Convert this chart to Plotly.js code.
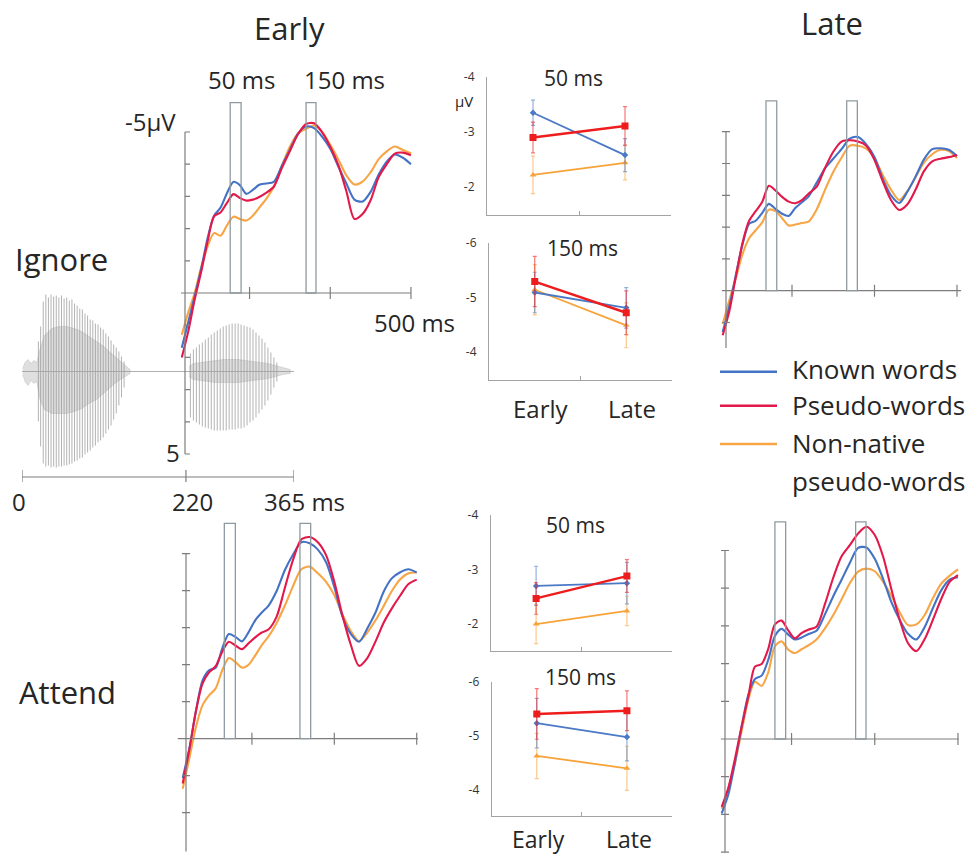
<!DOCTYPE html>
<html><head><meta charset="utf-8">
<script src="https://cdn.plot.ly/plotly-3.0.1.min.js"></script>
<style>html,body{margin:0;padding:0;background:#fff}#chart{width:978px;height:858px}</style>
</head><body><div id="chart"></div>
<script>
// ---------------- DATA ----------------
const seriesNames = ['Known words', 'Pseudo-words', 'Non-native pseudo-words'];
const legendRows = ['Known words', 'Pseudo-words', 'Non-native', 'pseudo-words'];

// ERP time points (ms from word onset)
const timeMs = [216,224,232,240,248,256,264,272,280,288,296,304,312,320,330,340,350,360,370,380,390,400,410,420,430,440,450,460,470,480,490,500];

// Ignore condition, Early (µV, negative up)
const ignoreEarlyKnown = [1.7,0.9,0.1,-0.75,-1.7,-2.4,-2.65,-3.1,-3.45,-3.35,-3.08,-3.2,-3.36,-3.4,-3.45,-3.95,-4.45,-4.95,-5.17,-5.12,-4.85,-4.48,-3.93,-3.4,-2.9,-2.84,-3.14,-3.68,-4.08,-4.3,-4.2,-4.0];
const ignoreEarlyPseudo = [2.0,1.2,0.2,-0.65,-1.6,-2.38,-2.5,-2.8,-3.07,-2.95,-2.87,-2.9,-2.98,-3.1,-3.3,-3.88,-4.41,-4.93,-5.25,-5.27,-4.99,-4.54,-3.97,-3.16,-2.3,-2.45,-2.88,-3.6,-4.0,-4.33,-4.36,-4.28];
const ignoreEarlyNonnative = [1.3,0.6,0.0,-0.8,-1.45,-1.86,-1.78,-2.1,-2.37,-2.3,-2.25,-2.4,-2.65,-2.9,-3.3,-3.95,-4.55,-4.95,-5.1,-5.2,-5.0,-4.6,-4.15,-3.65,-3.37,-3.46,-3.75,-4.16,-4.4,-4.55,-4.44,-4.34];
// Ignore condition, Late
const ignoreLateKnown = [1.3,0.5,-0.5,-1.45,-2.1,-2.2,-2.45,-2.73,-2.57,-2.42,-2.35,-2.6,-2.78,-2.96,-3.4,-3.85,-4.15,-4.45,-4.78,-4.83,-4.6,-4.2,-3.52,-3.0,-2.76,-3.12,-3.6,-4.13,-4.45,-4.48,-4.43,-4.23];
const ignoreLatePseudo = [1.4,0.65,-0.45,-1.5,-2.2,-2.5,-2.8,-3.3,-3.15,-2.95,-2.8,-2.75,-2.85,-3.05,-3.27,-3.86,-4.37,-4.69,-4.73,-4.69,-4.56,-4.11,-3.44,-2.85,-2.54,-2.72,-3.19,-3.76,-4.07,-4.15,-4.2,-4.27];
const ignoreLateNonnative = [1.05,0.3,-0.4,-1.15,-1.65,-1.9,-2.15,-2.55,-2.5,-2.28,-2.05,-2.08,-2.13,-2.17,-2.56,-3.17,-3.73,-4.18,-4.56,-4.56,-4.47,-4.17,-3.64,-3.18,-2.85,-3.14,-3.58,-4.03,-4.29,-4.43,-4.39,-4.17];
// Attend condition, Early
const attendEarlyKnown = [1.06,0.27,-0.74,-1.57,-1.85,-1.92,-2.44,-2.83,-2.75,-2.63,-2.88,-3.2,-3.41,-3.59,-3.99,-4.56,-4.98,-5.31,-5.28,-5.11,-4.77,-4.1,-3.29,-2.83,-2.62,-2.98,-3.41,-3.98,-4.34,-4.5,-4.58,-4.49];
const attendEarlyPseudo = [1.21,0.3,-0.74,-1.49,-1.79,-1.96,-2.35,-2.62,-2.52,-2.42,-2.58,-2.74,-2.87,-2.95,-3.3,-4.08,-4.84,-5.39,-5.45,-5.31,-4.96,-4.24,-3.32,-2.54,-1.97,-2.18,-2.63,-3.14,-3.53,-3.87,-4.18,-4.3];
const attendEarlyNonnative = [1.35,0.54,-0.31,-0.9,-1.17,-1.36,-1.85,-2.18,-2.07,-1.92,-2.0,-2.25,-2.53,-2.76,-3.13,-3.6,-4.13,-4.58,-4.65,-4.47,-4.24,-3.88,-3.35,-2.91,-2.64,-2.87,-3.2,-3.59,-4.0,-4.31,-4.47,-4.5];
// Attend condition, Late
const attendLateKnown = [1.97,1.47,0.63,-0.33,-1.17,-1.59,-1.68,-2.1,-2.73,-2.92,-2.77,-2.64,-2.69,-2.78,-2.87,-3.3,-3.78,-4.22,-4.67,-5.07,-5.08,-4.78,-4.25,-3.63,-3.16,-2.79,-2.64,-2.97,-3.48,-3.95,-4.23,-4.29];
const attendLatePseudo = [1.8,1.3,0.52,-0.33,-1.12,-1.92,-1.99,-2.39,-3.04,-3.14,-2.88,-2.67,-2.81,-2.9,-2.98,-3.57,-4.27,-4.84,-5.14,-5.45,-5.63,-5.41,-4.84,-3.97,-3.16,-2.54,-2.33,-2.65,-3.17,-3.72,-4.17,-4.35];
const attendLateNonnative = [1.85,1.31,0.64,-0.21,-1.04,-1.52,-1.41,-1.77,-2.46,-2.59,-2.37,-2.28,-2.38,-2.48,-2.64,-2.93,-3.28,-3.7,-4.13,-4.44,-4.52,-4.45,-4.17,-3.8,-3.36,-3.02,-3.04,-3.29,-3.74,-4.12,-4.33,-4.5];

// Mean amplitudes (µV) at Early / Late sessions
const sessions = ['Early', 'Late'];
const sessionX = [1, 3];
const ign50Known = [-3.35, -2.58], ign50Pseudo = [-2.90, -3.11], ign50Nonnative = [-2.22, -2.44];
const ign50KnownErr = [0.23, 0.30], ign50PseudoErr = [0.28, 0.35], ign50NonnativeErr = [0.34, 0.31];
const ign150Known = [-5.09, -4.81], ign150Pseudo = [-5.29, -4.72], ign150Nonnative = [-5.14, -4.49];
const ign150KnownErr = [0.37, 0.37], ign150PseudoErr = [0.46, 0.40], ign150NonnativeErr = [0.46, 0.41];
const att50Known = [-2.70, -2.75], att50Pseudo = [-2.47, -2.88], att50Nonnative = [-2.00, -2.24];
const att50KnownErr = [0.36, 0.38], att50PseudoErr = [0.29, 0.30], att50NonnativeErr = [0.36, 0.27];
const att150Known = [-5.23, -4.97], att150Pseudo = [-5.40, -5.46], att150Nonnative = [-4.62, -4.39];
const att150KnownErr = [0.46, 0.44], att150PseudoErr = [0.47, 0.37], att150NonnativeErr = [0.42, 0.41];
const tick50 = [-4, -3, -2], tick50Text = ['-4', '-3', '-2'];
const tick150 = [-6, -5, -4], tick150Text = ['-6', '-5', '-4'];

// Stimulus waveform: glottal pulses (ms) with upper / lower amplitude
const syl1Time = [22,25,28.5,32,35.5,39,42.5,46,49.5,53,56.5,60,63.5,67,70.5,74,77.5,81,84.5,88,91.5,95,98.5,102,105.5,109,112.5,116,119.5,123,126.5,130,133.5,137];
const syl1Up = [30,45,70,77,74,77,75,76,74,76,73,74,71,72,68,66,63,62,58,56,52,51,48,47,44,42,38,35,31,27,24,20,15,10];
const syl1Down = [50,75,92,95,94,96,95,96,95,95,94,94,93,92,90,89,87,86,83,81,79,76,74,71,69,66,62,58,54,48,42,34,26,16];
const syl2Time = [226,230,234,238,242,246,250,254,258,262,266,270,274,278,282,286,290,294,298,302,306,310,314,318,322,326,330,334,338,342];
const syl2Up = [18,22,24,27,29,32,34,37,39,41,43,45,46,47,48,48,48,47,46,45,44,42,39,36,33,29,24,19,14,9];
const syl2Down = [46,49,51,53,55,56,57,58,59,59,59,59,59,58,58,58,57,57,56,54,51,49,46,42,38,34,29,23,16,10];
const core1Time = [1,4,8,12,16,20,24,30,40,50,60,70,80,90,100,110,120,128,135,141,145];
const core1Up = [3,9,12,8,11,9,22,36,43,45,45,43,40,35,30,25,18,13,9,5,2];
const core1Down = [3,10,14,9,12,10,28,38,42,42,42,40,37,32,28,22,15,10,7,4,2];
const core2Time = [224,230,240,250,260,270,280,290,300,310,320,330,340,350,360];
const core2Up = [5,8,9,10,11,12,12,12,11,10,9,8,6,4,2];
const core2Down = [5,8,9,10,11,11,11,11,10,9,8,7,5,3,2];
const stimTicks = [0, 220, 365];
const erpTimeTicks = [300, 400, 500];

// ---------------- STYLE / LAYOUT ----------------
const W = 978, H = 858;
const FONT = 'Open Sans, Noto Sans, DejaVu Sans, sans-serif';
const TXT = '#262626';
const erpColors = ['#4472c4', '#e2194a', '#f7a545'];
const smallColors = ['#4a79c6', '#ee1c1c', '#f7a33a'];
const errColors = ['rgba(74,121,198,0.6)', 'rgba(238,28,28,0.6)', 'rgba(247,163,58,0.6)'];
const markerSymbols = ['diamond', 'square', 'triangle-up'];
const markerSizes = [5, 7, 6];
const AX = '#7d7d7d';
const fx = p => p / W, fy = p => 1 - p / H;

const panels = [
  {x:'x2', y:'y2', axPx:185, pxMs:0.807, zeroPy:293, pxUv:32.2, xr:[210,505], yTop:-6.1, yBot:5.2,
   axisUv:[-5,5], ticks:[-5,-4,-3,-2,-1,1,2,3,4,5], tL:0, tR:5, xLine:[215,500],
   win:[[276,289.5],[370,382.3]], winTop:-5.91, data:[ignoreEarlyKnown, ignoreEarlyPseudo, ignoreEarlyNonnative]},
  {x:'x3', y:'y3', axPx:726, pxMs:0.825, zeroPy:290.7, pxUv:31.8, xr:[210,507], yTop:-6.1, yBot:1.95,
   axisUv:[-5,1.8], ticks:[-5,-4,-3,-2,-1,1], tL:4, tR:4, xLine:[215,505],
   win:[[268.5,281.5],[366.3,379.2]], winTop:-5.97, data:[ignoreLateKnown, ignoreLatePseudo, ignoreLateNonnative]},
  {x:'x4', y:'y4', axPx:186, pxMs:0.824, zeroPy:738.7, pxUv:37, xr:[208,506], yTop:-6.0, yBot:3.2,
   axisUv:[-5,3.05], ticks:[-5,-4,-3,-2,-1,1,2], tL:4, tR:4, xLine:[210,501.5],
   win:[[266.5,279.9],[358.3,371.3]], winTop:-5.82, data:[attendEarlyKnown, attendEarlyPseudo, attendEarlyNonnative]},
  {x:'x5', y:'y5', axPx:725, pxMs:0.832, zeroPy:739, pxUv:37.7, xr:[208,506], yTop:-5.9, yBot:3.1,
   axisUv:[-5,3], ticks:[-5,-4,-3,-2,-1,1,2,3], tL:4, tR:4, xLine:[215,501],
   win:[[280,292.9],[377,389.5]], winTop:-5.76, data:[attendLateKnown, attendLatePseudo, attendLateNonnative]}
];

const smallPanels = [
  {x:'x6', y:'y6', xPx:[487,671], yPy:[77,214.5], yr:[-1.5,-4], tv:tick50, tt:tick50Text,
   vals:[ign50Known, ign50Pseudo, ign50Nonnative], errs:[ign50KnownErr, ign50PseudoErr, ign50NonnativeErr]},
  {x:'x7', y:'y7', xPx:[489,672], yPy:[242.7,379.5], yr:[-3.5,-6], tv:tick150, tt:tick150Text,
   vals:[ign150Known, ign150Pseudo, ign150Nonnative], errs:[ign150KnownErr, ign150PseudoErr, ign150NonnativeErr]},
  {x:'x8', y:'y8', xPx:[490.7,672.3], yPy:[515,651.3], yr:[-1.5,-4], tv:tick50, tt:tick50Text,
   vals:[att50Known, att50Pseudo, att50Nonnative], errs:[att50KnownErr, att50PseudoErr, att50NonnativeErr]},
  {x:'x9', y:'y9', xPx:[491.7,672], yPy:[681.7,816.2], yr:[-3.5,-6], tv:tick150, tt:tick150Text,
   vals:[att150Known, att150Pseudo, att150Nonnative], errs:[att150KnownErr, att150PseudoErr, att150NonnativeErr]}
];

const traces = [];
const shapes = [];
const layout = {
  width: W, height: H, margin:{l:0,r:0,t:0,b:0},
  paper_bgcolor:'#ffffff', plot_bgcolor:'rgba(0,0,0,0)',
  showlegend:false, hovermode:false,
  font:{family:FONT, color:TXT}
};

// ---- stimulus waveform subplot (x / y)
layout.xaxis = {domain:[fx(22), fx(294)], range:[0,365], anchor:'y', visible:false, fixedrange:true};
layout.yaxis = {domain:[fy(471.5), fy(271.5)], range:[-100,100], anchor:'x', showgrid:false, showticklabels:false,
  ticks:'', showline:false, zeroline:true, zerolinecolor:'#b0b0b0', zerolinewidth:1, fixedrange:true};
function corePoly(t, up, down) {
  return {x: t.concat(t.slice().reverse()), y: up.concat(down.map(d => -d).reverse())};
}
const pulseX = [], pulseY = [];
syl1Time.forEach((t,i) => { pulseX.push(t, t, null); pulseY.push(syl1Up[i], -syl1Down[i], null); });
syl2Time.forEach((t,i) => { pulseX.push(t, t, null); pulseY.push(syl2Up[i], -syl2Down[i], null); });
traces.push({type:'scatter', mode:'lines', x:pulseX, y:pulseY, xaxis:'x', yaxis:'y', connectgaps:false,
  line:{color:'rgba(175,175,175,0.95)', width:1}, hoverinfo:'skip'});
[corePoly(core1Time, core1Up, core1Down), corePoly(core2Time, core2Up, core2Down)].forEach(c => {
  traces.push({type:'scatter', mode:'lines', x:c.x, y:c.y, xaxis:'x', yaxis:'y', fill:'toself',
    fillcolor:'rgba(150,150,150,0.3)', line:{color:'rgba(150,150,150,0.45)', width:0.6}, hoverinfo:'skip'});
});
// timeline axis of the stimulus
const tlY = fy(477);
shapes.push({type:'line', xref:'x', yref:'paper', x0:stimTicks[0], x1:stimTicks[stimTicks.length-1], y0:tlY, y1:tlY, line:{color:AX, width:1.2}});
stimTicks.forEach(t => shapes.push({type:'line', xref:'x', yref:'paper', ysizemode:'pixel', yanchor:tlY,
  x0:t, x1:t, y0:-5, y1:7, line:{color:AX, width:1.2}}));

// ---- ERP panels
panels.forEach(p => {
  const xn = 'xaxis' + p.x.slice(1), yn = 'yaxis' + p.y.slice(1);
  layout[xn] = {domain:[fx(p.axPx + (p.xr[0]-220)*p.pxMs), fx(p.axPx + (p.xr[1]-220)*p.pxMs)], range:p.xr,
    anchor:p.y, visible:false, fixedrange:true};
  layout[yn] = {domain:[fy(p.zeroPy + p.yBot*p.pxUv), fy(p.zeroPy + p.yTop*p.pxUv)], range:[p.yBot, p.yTop],
    anchor:p.x, visible:false, fixedrange:true};
  const ln = {color:AX, width:1.2};
  shapes.push({type:'line', xref:p.x, yref:p.y, x0:220, x1:220, y0:p.axisUv[0], y1:p.axisUv[1], line:ln});
  shapes.push({type:'line', xref:p.x, yref:p.y, x0:p.xLine[0], x1:p.xLine[1], y0:0, y1:0, line:ln});
  p.ticks.forEach(v => shapes.push({type:'line', xref:p.x, yref:p.y, xsizemode:'pixel', xanchor:220,
    x0:-p.tL, x1:p.tR, y0:v, y1:v, line:ln}));
  erpTimeTicks.forEach(t => shapes.push({type:'line', xref:p.x, yref:p.y, ysizemode:'pixel', yanchor:0,
    x0:t, x1:t, y0:-6, y1:6, line:ln}));
  p.win.forEach(w => shapes.push({type:'rect', xref:p.x, yref:p.y, x0:w[0], x1:w[1], y0:0, y1:p.winTop,
    line:{color:'#8e9aa0', width:1.3}, fillcolor:'rgba(0,0,0,0)'}));
  [2,0,1].forEach(s => traces.push({type:'scatter', mode:'lines', name:seriesNames[s], x:timeMs, y:p.data[s],
    xaxis:p.x, yaxis:p.y, line:{color:erpColors[s], width:2.1, shape:'spline', smoothing:0.8}, hoverinfo:'skip'}));
});

// ---- small mean-amplitude panels
smallPanels.forEach(sp => {
  const xn = 'xaxis' + sp.x.slice(1), yn = 'yaxis' + sp.y.slice(1);
  layout[xn] = {domain:[fx(sp.xPx[0]), fx(sp.xPx[1])], range:[0,4], anchor:sp.y, showline:true, linecolor:'#a3a3a3',
    linewidth:1, ticks:'inside', ticklen:4, tickcolor:'#a3a3a3', tickvals:[2,4], showticklabels:false,
    showgrid:false, zeroline:false, fixedrange:true};
  layout[yn] = {domain:[fy(sp.yPy[1]), fy(sp.yPy[0])], range:sp.yr, anchor:sp.x, showline:true, linecolor:'#a3a3a3',
    linewidth:1, ticks:'', tickvals:sp.tv, ticktext:sp.tt, ticklabelstandoff:9,
    tickfont:{family:FONT, size:12, color:'#333'}, showgrid:false, zeroline:false, fixedrange:true};
  [2,0,1].forEach(s => traces.push({type:'scatter', mode:'lines+markers', name:seriesNames[s], x:sessionX, y:sp.vals[s],
    xaxis:sp.x, yaxis:sp.y, line:{color:smallColors[s], width: s===1 ? 2.4 : 1.8},
    marker:{symbol:markerSymbols[s], size:markerSizes[s], color:smallColors[s]},
    error_y:{type:'data', array:sp.errs[s], visible:true, color:errColors[s], thickness:1.2, width:2},
    hoverinfo:'skip'}));
});

// ---- legend (drawn)
[371.7, 405.7, 444].forEach((yy, i) => shapes.push({type:'line', xref:'paper', yref:'paper',
  x0:fx(720), x1:fx(777), y0:fy(yy), y1:fy(yy), line:{color:erpColors[i], width:2.6}}));

layout.shapes = shapes;

function note(text, x, y, size, xanchor) {
  return {text, x:fx(x), y:fy(y), xref:'paper', yref:'paper', xanchor:xanchor || 'center', yanchor:'middle',
    showarrow:false, font:{family:FONT, size, color:TXT}};
}
layout.annotations = [
  note('Early', 289, 28, 31), note('Late', 832, 23, 31),
  note('Ignore', 13, 259, 31, 'left'), note('Attend', 17, 692, 31, 'left'),
  note('50 ms', 241, 79, 24), note('150 ms', 344, 79, 24),
  note('-5μV', 178, 122, 24, 'right'), note('500 ms', 414, 322, 24), note('5', 172.5, 452, 24),
  note(String(stimTicks[0]), 19, 501, 24), note(String(stimTicks[1]), 192.5, 501, 24), note(stimTicks[2] + ' ms', 304, 501, 24),
  note('50 ms', 573, 78, 21), note('150 ms', 582, 248, 21), note('50 ms', 575.5, 525, 21), note('150 ms', 580, 677, 21),
  note('μV', 464, 101, 15),
  note(sessions[0], 541, 408, 24), note(sessions[1], 632, 408, 24),
  note(sessions[0], 538, 839, 23), note(sessions[1], 629, 839, 23),
  note(legendRows[0], 790, 369, 26, 'left'), note(legendRows[1], 790, 405, 26, 'left'),
  note(legendRows[2], 790, 443, 26, 'left'), note(legendRows[3], 790, 481, 26, 'left')
];

Plotly.newPlot('chart', traces, layout, {staticPlot:true, displayModeBar:false});
</script>
</body></html>
